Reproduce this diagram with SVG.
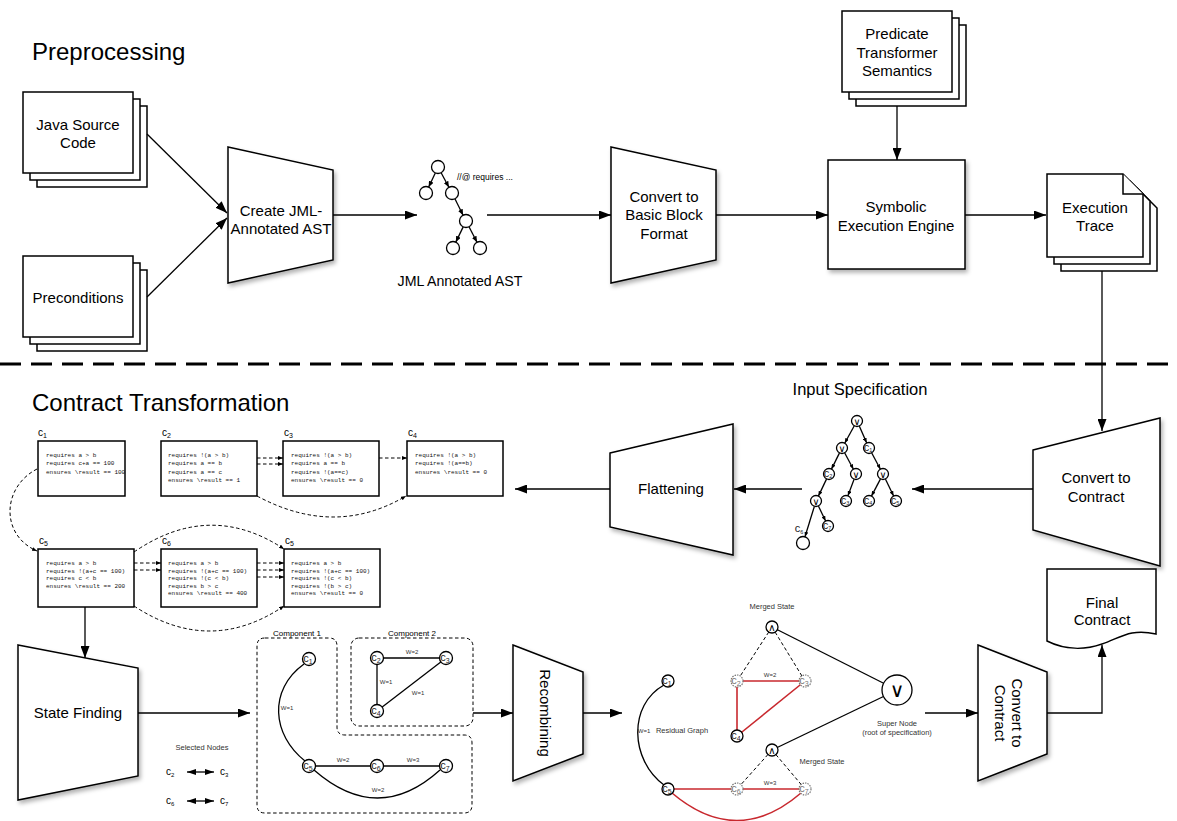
<svg xmlns="http://www.w3.org/2000/svg" width="1177" height="821" viewBox="0 0 1177 821">
<defs>
<style>
.t{font-family:"Liberation Sans",Arial,Helvetica,sans-serif;fill:#000}
.big{font-size:24px}
.lb{font-size:15px;text-anchor:middle}
.sm{font-size:7.5px;text-anchor:middle;fill:#333}
.w{font-size:6px;text-anchor:middle;fill:#333}
.m{font-family:"Liberation Mono","DejaVu Sans Mono",monospace;font-size:6px;fill:#111}
.box{fill:#fff;stroke:#000;stroke-width:1.5}
.ln{fill:none;stroke:#000;stroke-width:1.3}
.dash{fill:none;stroke:#000;stroke-width:1;stroke-dasharray:3.5,2.5}
.red{fill:none;stroke:#c8282e;stroke-width:1.6}
.nd{fill:#fff;stroke:#000;stroke-width:1.3}
.gn{fill:#fff;stroke:#777;stroke-width:1.2;stroke-dasharray:1.5,1}
.nl{font-family:"Liberation Sans",Arial,sans-serif;font-size:11px;text-anchor:middle;fill:#222}
.gl{fill:#777}
.sub{font-size:7px}
.cl{font-family:"Liberation Sans",Arial,sans-serif;font-size:10px;fill:#000}
.csub{font-size:7px}
.sym{font-family:"DejaVu Sans",sans-serif;text-anchor:middle;fill:#000}
</style>
<marker id="a" markerWidth="12" markerHeight="9" refX="12" refY="4.5" orient="auto" markerUnits="userSpaceOnUse"><path d="M0,0L12,4.5L0,9z"/></marker>
<marker id="s" markerWidth="6" markerHeight="5" refX="6" refY="2.5" orient="auto" markerUnits="userSpaceOnUse"><path d="M0,0L6,2.5L0,5z"/></marker>
<marker id="d" markerWidth="5" markerHeight="4" refX="5" refY="2" orient="auto" markerUnits="userSpaceOnUse"><path d="M0,0L5,2L0,4z"/></marker>
<marker id="b" markerWidth="9" markerHeight="6" refX="9" refY="3" orient="auto-start-reverse" markerUnits="userSpaceOnUse"><path d="M0,0L9,3L0,6z"/></marker>
<filter id="sh" x="-20%" y="-20%" width="150%" height="150%"><feDropShadow dx="2" dy="3" stdDeviation="2" flood-color="#000" flood-opacity="0.3"/></filter>
</defs>
<rect width="1177" height="821" fill="#fff"/>

<text class="t big" x="32" y="60">Preprocessing</text>
<text class="t big" x="32" y="411">Contract Transformation</text>
<line x1="0" y1="364" x2="1177" y2="364" stroke="#000" stroke-width="3" stroke-dasharray="21,10"/>

<g id="java-source">
<rect class="box" x="37" y="106" width="110" height="81"/>
<rect class="box" x="30" y="99" width="110" height="81"/>
<rect class="box" x="23" y="92" width="110" height="81"/>
<text class="t lb" x="78" y="130">Java Source</text>
<text class="t lb" x="78" y="148">Code</text>
</g>
<g id="preconditions">
<rect class="box" x="37" y="270" width="110" height="81"/>
<rect class="box" x="30" y="263" width="110" height="81"/>
<rect class="box" x="23" y="256" width="110" height="81"/>
<text class="t lb" x="78" y="303">Preconditions</text>
</g>
<g id="create-jml">
<polygon class="box" filter="url(#sh)" points="228,147 333,170 333,260 228,283"/>
<text class="t lb" x="281" y="216">Create JML-</text>
<text class="t lb" x="281" y="234">Annotated AST</text>
</g>
<g id="jml-ast">
<g class="ln" marker-end="url(#s)">
<line x1="435.3" y1="172.9" x2="428.7" y2="187.1"/>
<line x1="441.1" y1="172.7" x2="448.9" y2="187.3"/>
<line x1="454.9" y1="198.8" x2="463.1" y2="215.2"/>
<line x1="463.2" y1="226.9" x2="455.8" y2="242.1"/>
<line x1="469" y1="226.8" x2="477" y2="242.2"/>
</g>
<circle class="nd" cx="438" cy="167" r="6.5"/>
<circle class="nd" cx="426" cy="193" r="6.5"/>
<circle class="nd" cx="452" cy="193" r="6.5"/>
<circle class="nd" cx="466" cy="221" r="6.5"/>
<circle class="nd" cx="453" cy="248" r="6.5"/>
<circle class="nd" cx="480" cy="248" r="6.5"/>
<text class="t" x="457" y="180" font-size="8.5" fill="#222">//@ requires ...</text>
<text class="t" x="460" y="286" font-size="14.2" text-anchor="middle">JML Annotated AST</text>
</g>
<g id="convert-bb">
<polygon class="box" filter="url(#sh)" points="611,147 716,170 716,260 611,283"/>
<text class="t lb" x="664" y="202">Convert to</text>
<text class="t lb" x="664" y="220">Basic Block</text>
<text class="t lb" x="664" y="239">Format</text>
</g>
<g id="predicate">
<rect class="box" x="856" y="25" width="110" height="81"/>
<rect class="box" x="849" y="18" width="110" height="81"/>
<rect class="box" x="842" y="11" width="110" height="81"/>
<text class="t lb" x="897" y="39">Predicate</text>
<text class="t lb" x="897" y="58">Transformer</text>
<text class="t lb" x="897" y="76">Semantics</text>
</g>
<g id="symbolic">
<rect class="box" filter="url(#sh)" x="828" y="160" width="137" height="109"/>
<text class="t lb" x="896" y="212">Symbolic</text>
<text class="t lb" x="896" y="231">Execution Engine</text>
</g>
<g id="exec-trace">
<path class="box" d="M1061,188h76l20,20v63h-96z"/>
<path class="box" d="M1054,181h76l20,20v63h-96z"/>
<path class="box" d="M1047,174h76l20,20v63h-96z"/>
<path class="box" d="M1123,174v20h20"/>
<text class="t lb" x="1095" y="213">Execution</text>
<text class="t lb" x="1095" y="231">Trace</text>
</g>

<g id="convert-contract-1">
<polygon class="box" filter="url(#sh)" points="1033,450 1160,418 1160,566 1033,530"/>
<text class="t lb" x="1096" y="483">Convert to</text>
<text class="t lb" x="1096" y="502">Contract</text>
</g>
<g id="input-spec">
<text class="t" x="860" y="395" font-size="16.5" text-anchor="middle">Input Specification</text>
<g class="ln" stroke-width="1.1" marker-end="url(#d)">
<line x1="854.3" y1="425.8" x2="844.7" y2="443.2"/>
<line x1="859.3" y1="426.1" x2="866.7" y2="442.9"/>
<line x1="839.5" y1="452.9" x2="831.5" y2="469.1"/>
<line x1="844.6" y1="452.8" x2="853.4" y2="469.2"/>
<line x1="871.6" y1="452.8" x2="880.4" y2="469.2"/>
<line x1="826.6" y1="478.9" x2="818.4" y2="496.1"/>
<line x1="854.1" y1="479.2" x2="847.9" y2="495.8"/>
<line x1="880.5" y1="478.9" x2="871.5" y2="496.1"/>
<line x1="885.4" y1="479" x2="893.6" y2="496"/>
<line x1="818.4" y1="506" x2="825.6" y2="521"/>
<line x1="814.4" y1="506.2" x2="805" y2="536.8"/>
</g>
<g class="nd" stroke-width="1.1">
<circle cx="857" cy="421" r="5.5"/><circle cx="842" cy="448" r="5.5"/><circle cx="869" cy="448" r="5.5"/>
<circle cx="829" cy="474" r="5.5"/><circle cx="856" cy="474" r="5.5"/><circle cx="883" cy="474" r="5.5"/>
<circle cx="816" cy="501" r="5.5"/><circle cx="846" cy="501" r="5.5"/><circle cx="869" cy="501" r="5.5"/>
<circle cx="896" cy="501" r="5.5"/><circle cx="828" cy="526" r="5.5"/><circle cx="803" cy="543" r="6.5"/>
</g>
<g class="sym" font-size="9.5">
<text x="857" y="424.5">∨</text><text x="842" y="451.5">∨</text><text x="856" y="477.5">∨</text><text x="883" y="477.5">∨</text><text x="816" y="504.5">∨</text>
</g>
<g class="nl" font-size="8.5">
<text x="868" y="450.5">c<tspan font-size="5.5" dy="1.5">1</tspan></text>
<text x="828" y="476.5">c<tspan font-size="5.5" dy="1.5">2</tspan></text>
<text x="845" y="503.5">c<tspan font-size="5.5" dy="1.5">3</tspan></text>
<text x="868" y="503.5">c<tspan font-size="5.5" dy="1.5">4</tspan></text>
<text x="895" y="503.5">c<tspan font-size="5.5" dy="1.5">5</tspan></text>
<text x="827" y="528.5">c<tspan font-size="5.5" dy="1.5">7</tspan></text>
<text x="799" y="532">c<tspan font-size="5.5" dy="1.5">6</tspan></text>
</g>
</g>
<g id="flattening">
<polygon class="box" filter="url(#sh)" points="610,453 733,424 733,555 610,527"/>
<text class="t lb" x="671" y="494">Flattening</text>
</g>

<g id="contracts">
<rect class="box" x="38" y="441" width="87" height="55"/>
<text class="cl" x="38" y="436">c<tspan class="csub" dy="2">1</tspan></text>
<text class="m" x="46" y="457">requires a &gt; b</text>
<text class="m" x="46" y="465.3">requires c+a == 100</text>
<text class="m" x="46" y="473.7">ensures \result == 100</text>

<rect class="box" x="161" y="441" width="96" height="55"/>
<text class="cl" x="162" y="436">c<tspan class="csub" dy="2">2</tspan></text>
<text class="m" x="168" y="457">requires !(a &gt; b)</text>
<text class="m" x="168" y="465.3">requires a == b</text>
<text class="m" x="168" y="473.7">requires a == c</text>
<text class="m" x="168" y="482">ensures \result == 1</text>

<rect class="box" x="283" y="441" width="96" height="55"/>
<text class="cl" x="284" y="436">c<tspan class="csub" dy="2">3</tspan></text>
<text class="m" x="291" y="457">requires !(a &gt; b)</text>
<text class="m" x="291" y="465.3">requires a == b</text>
<text class="m" x="291" y="473.7">requires !(a==c)</text>
<text class="m" x="291" y="482">ensures \result == 0</text>

<rect class="box" x="407" y="441" width="96" height="55"/>
<text class="cl" x="408" y="436">c<tspan class="csub" dy="2">4</tspan></text>
<text class="m" x="415" y="457">requires !(a &gt; b)</text>
<text class="m" x="415" y="465.3">requires !(a==b)</text>
<text class="m" x="415" y="473.7">ensures \result == 0</text>

<rect class="box" x="38" y="549" width="96" height="58"/>
<text class="cl" x="39" y="544">c<tspan class="csub" dy="2">5</tspan></text>
<text class="m" x="46" y="565">requires a &gt; b</text>
<text class="m" x="46" y="572.5">requires !(a+c == 100)</text>
<text class="m" x="46" y="580">requires c &lt; b</text>
<text class="m" x="46" y="587.5">ensures \result == 200</text>

<rect class="box" x="161" y="549" width="96" height="58"/>
<text class="cl" x="162" y="544">c<tspan class="csub" dy="2">6</tspan></text>
<text class="m" x="168" y="565">requires a &gt; b</text>
<text class="m" x="168" y="572.5">requires !(a+c == 100)</text>
<text class="m" x="168" y="580">requires !(c &lt; b)</text>
<text class="m" x="168" y="587.5">requires b &gt; c</text>
<text class="m" x="168" y="595">ensures \result == 400</text>

<rect class="box" x="284" y="549" width="96" height="58"/>
<text class="cl" x="285" y="544">c<tspan class="csub" dy="2">5</tspan></text>
<text class="m" x="291" y="565">requires a &gt; b</text>
<text class="m" x="291" y="572.5">requires !(a+c == 100)</text>
<text class="m" x="291" y="580">requires !(c &lt; b)</text>
<text class="m" x="291" y="587.5">requires !(b &gt; c)</text>
<text class="m" x="291" y="595">ensures \result == 0</text>
</g>

<g id="state-finding">
<polygon class="box" filter="url(#sh)" points="18,645 138,668 138,776 18,800"/>
<text class="t lb" x="78" y="718">State Finding</text>
</g>
<g id="selected-nodes">
<text class="t sm" x="202" y="750">Selected Nodes</text>
<text class="cl" x="166" y="775" font-size="8" fill="#333">c<tspan font-size="6" dy="2">2</tspan></text>
<text class="cl" x="220" y="775" font-size="8" fill="#333">c<tspan font-size="6" dy="2">3</tspan></text>
<text class="cl" x="166" y="804" font-size="8" fill="#333">c<tspan font-size="6" dy="2">6</tspan></text>
<text class="cl" x="220" y="804" font-size="8" fill="#333">c<tspan font-size="6" dy="2">7</tspan></text>
<line class="ln" x1="187" y1="772" x2="214" y2="772" marker-start="url(#b)" marker-end="url(#b)"/>
<line class="ln" x1="187" y1="801" x2="214" y2="801" marker-start="url(#b)" marker-end="url(#b)"/>
</g>
<g id="components">
<text class="t" x="297" y="636" font-size="8" text-anchor="middle" fill="#333">Component 1</text>
<text class="t" x="412" y="636" font-size="8" text-anchor="middle" fill="#333">Component 2</text>
<path class="dash" d="M265,638H329Q337,638 337,646V727Q337,735 345,735H464Q472,735 472,743V805Q472,813 464,813H265Q257,813 257,805V646Q257,638 265,638Z"/>
<rect class="dash" x="351" y="638" width="122" height="88" rx="8"/>
<g class="ln">
<path d="M304,664C268,690 272,735 305,761"/>
<path d="M314,770Q378,826 440,770"/>
<line x1="377" y1="658" x2="446" y2="658"/>
<line x1="377" y1="658" x2="377" y2="711"/>
<line x1="377" y1="711" x2="446" y2="658"/>
<line x1="309" y1="766" x2="446" y2="766"/>
</g>
<g class="t w">
<text x="287" y="710">W=1</text>
<text x="412" y="654">W=2</text>
<text x="386" y="684">W=1</text>
<text x="418" y="695">W=1</text>
<text x="343" y="762">W=2</text>
<text x="413" y="762">W=3</text>
<text x="378" y="792">W=2</text>
</g>
<g class="nd">
<circle cx="309" cy="659" r="6.5"/><circle cx="377" cy="658" r="6.5"/><circle cx="446" cy="658" r="6.5"/>
<circle cx="377" cy="711" r="6.5"/><circle cx="309" cy="766" r="6.5"/><circle cx="377" cy="766" r="6.5"/><circle cx="446" cy="766" r="6.5"/>
</g>
<g class="nl">
<text x="308" y="662">c<tspan class="sub" dy="1.5">1</tspan></text>
<text x="376" y="661">c<tspan class="sub" dy="1.5">2</tspan></text>
<text x="445" y="661">c<tspan class="sub" dy="1.5">3</tspan></text>
<text x="376" y="714">c<tspan class="sub" dy="1.5">4</tspan></text>
<text x="308" y="769">c<tspan class="sub" dy="1.5">5</tspan></text>
<text x="376" y="769">c<tspan class="sub" dy="1.5">6</tspan></text>
<text x="445" y="769">c<tspan class="sub" dy="1.5">7</tspan></text>
</g>
</g>
<g id="recombining">
<polygon class="box" filter="url(#sh)" points="513,645 583,672 583,754 513,781"/>
<text class="t lb" transform="translate(545,713) rotate(90)" x="0" y="5.3">Recombining</text>
</g>
<g id="residual">
<text class="t sm" x="772" y="609">Merged State</text>
<text class="t sm" x="822" y="764">Merged State</text>
<text class="t sm" x="897" y="726">Super Node</text>
<text class="t sm" x="897" y="735">(root of specification)</text>
<text class="t w" x="644" y="733">W=1</text>
<text class="t sm" x="682" y="733">Residual Graph</text>
<text class="t w" x="770" y="677">W=2</text>
<text class="t w" x="770" y="785">W=3</text>
<g class="ln">
<path d="M664,685C628,705 630,760 664,785"/>
<line x1="772" y1="627" x2="897" y2="690"/>
<line x1="772" y1="750" x2="897" y2="690"/>
</g>
<g class="dash">
<line x1="772" y1="627" x2="737" y2="681"/>
<line x1="772" y1="627" x2="805" y2="681"/>
<line x1="772" y1="750" x2="737" y2="789"/>
<line x1="772" y1="750" x2="805" y2="789"/>
</g>
<g class="red">
<line x1="737" y1="681" x2="805" y2="681"/>
<line x1="737" y1="681" x2="737" y2="736"/>
<line x1="737" y1="736" x2="805" y2="681"/>
<line x1="668" y1="789" x2="805" y2="789"/>
<path d="M672,793Q737,848 801,793"/>
</g>
<circle class="nd" cx="668" cy="681" r="6"/>
<circle class="nd" cx="668" cy="789" r="6"/>
<circle class="nd" cx="737" cy="736" r="6"/>
<circle class="gn" cx="737" cy="681" r="6"/>
<circle class="gn" cx="805" cy="681" r="6"/>
<circle class="gn" cx="737" cy="789" r="6"/>
<circle class="gn" cx="805" cy="789" r="6"/>
<circle class="nd" cx="772" cy="627" r="6"/>
<circle class="nd" cx="772" cy="750" r="6"/>
<circle class="nd" cx="897" cy="690" r="15"/>
<text class="sym" x="772" y="631" font-size="10">∧</text>
<text class="sym" x="772" y="754" font-size="10">∧</text>
<text class="sym" x="897" y="697" font-size="20">∨</text>
<g class="nl" font-size="10.5">
<text x="667" y="684">c<tspan class="sub" dy="1.5">1</tspan></text>
<text x="667" y="792">c<tspan class="sub" dy="1.5">5</tspan></text>
<text x="736" y="739">c<tspan class="sub" dy="1.5">4</tspan></text>
<text class="gl" x="736" y="684">c<tspan class="sub" dy="1.5">2</tspan></text>
<text class="gl" x="804" y="684">c<tspan class="sub" dy="1.5">3</tspan></text>
<text class="gl" x="736" y="792">c<tspan class="sub" dy="1.5">6</tspan></text>
<text class="gl" x="804" y="792">c<tspan class="sub" dy="1.5">7</tspan></text>
</g>
</g>
<g id="convert-contract-2">
<polygon class="box" filter="url(#sh)" points="978,645 1047,672 1047,754 978,781"/>
<g transform="translate(1010,713) rotate(90)">
<text class="t lb" x="0" y="-2">Convert to</text>
<text class="t lb" x="0" y="15">Contract</text>
</g>
</g>
<g id="final-contract">
<path class="box" d="M1047,569H1156V634C1130,628 1120,638 1102,644C1085,650 1065,650 1047,641Z"/>
<text class="t lb" x="1102" y="608">Final</text>
<text class="t lb" x="1102" y="625">Contract</text>
</g>

<g id="connectors">
<g class="ln" marker-end="url(#a)">
<line x1="147" y1="134" x2="227" y2="213"/>
<line x1="147" y1="297" x2="227" y2="218"/>
<line x1="333" y1="215" x2="417" y2="215"/>
<line x1="487" y1="215" x2="611" y2="215"/>
<line x1="716" y1="215" x2="828" y2="215"/>
<line x1="897" y1="106" x2="897" y2="160"/>
<line x1="965" y1="215" x2="1046" y2="215"/>
<line x1="1102" y1="271" x2="1102" y2="431"/>
<line x1="1033" y1="489" x2="912" y2="489"/>
<line x1="802" y1="489" x2="734" y2="489"/>
<line x1="610" y1="489" x2="515" y2="489"/>
<line x1="85" y1="607" x2="85" y2="658"/>
<line x1="138" y1="713" x2="250" y2="713"/>
<line x1="473" y1="713" x2="513" y2="713"/>
<line x1="583" y1="713" x2="622" y2="713"/>
<line x1="925" y1="713" x2="978" y2="713"/>
<polyline points="1047,713 1102,713 1102,645"/>
</g>
<g class="dash" marker-end="url(#d)">
<line x1="257" y1="458" x2="283" y2="458"/>
<line x1="257" y1="464" x2="283" y2="464"/>
<line x1="379" y1="458" x2="407" y2="458"/>
<path d="M257,496Q335,538 406,496"/>
<path d="M37,469C2,487 0,535 37,551"/>
<line x1="134" y1="563" x2="161" y2="563"/>
<line x1="134" y1="570" x2="161" y2="570"/>
<line x1="257" y1="563" x2="284" y2="563"/>
<line x1="257" y1="570" x2="284" y2="570"/>
<line x1="257" y1="577" x2="284" y2="577"/>
<path d="M134,552Q210,500 284,549"/>
<path d="M134,606Q210,656 284,606"/>
</g>
</g>
</svg>
